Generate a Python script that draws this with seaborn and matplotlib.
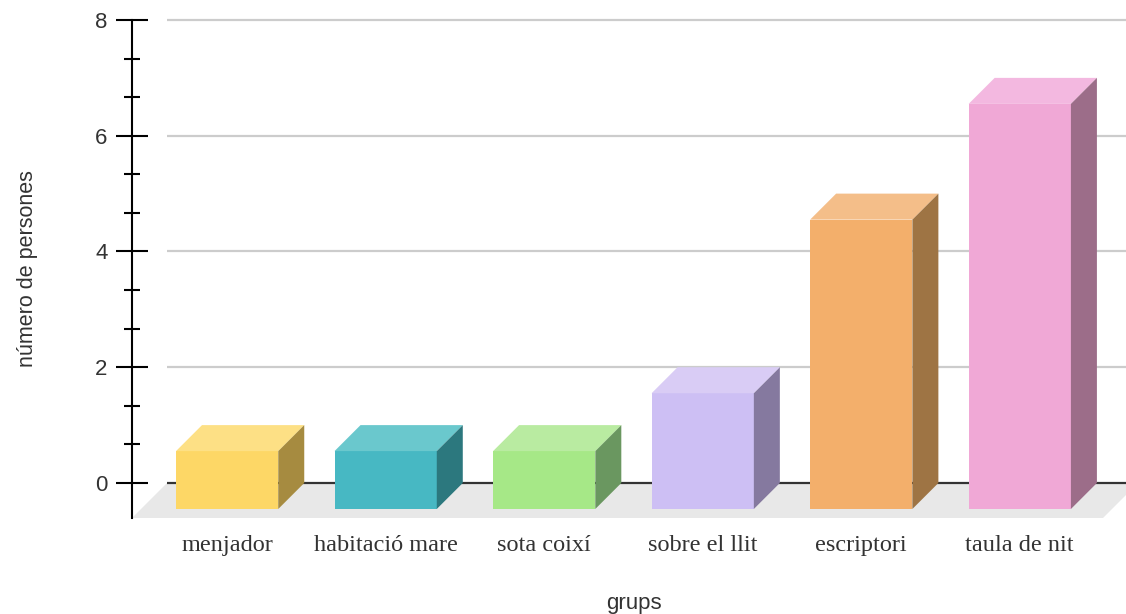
import matplotlib
matplotlib.use("Agg")
import matplotlib.pyplot as plt
from matplotlib.patches import Polygon
from matplotlib.ticker import MultipleLocator
import seaborn as sns

# Data
categories = ["menjador", "habitació mare", "sota coixí", "sobre el llit", "escriptori", "taula de nit"]
values = [1, 1, 1, 2, 5, 7]

# Face colours: front, top, side
front_colors = ["#FDD766", "#47B8C3", "#A6E887", "#CDBFF4", "#F3AF6B", "#F0A8D6"]
top_colors = ["#FDE085", "#6AC8CD", "#B9EBA1", "#D9CCF5", "#F4BE89", "#F3B8E0"]
side_colors = ["#A68B40", "#2C787E", "#6A9760", "#85799F", "#9E7444", "#9C6D89"]

sns.set_theme(style="white")
plt.rcParams["font.family"] = ["Liberation Sans", "DejaVu Sans"]

W, H = 1126, 614
fig = plt.figure(figsize=(W / 100, H / 100), dpi=100)
ax_left, ax_right, ax_top, ax_bottom = 132, 1126, 20, 518
ax = fig.add_axes([ax_left / W, 1 - ax_bottom / H, (ax_right - ax_left) / W, (ax_bottom - ax_top) / H])

BAR_W = 0.645
sns.barplot(x=categories, y=values, hue=categories, palette=front_colors,
            width=BAR_W, saturation=1, legend=False, linewidth=0, ax=ax, zorder=3)

x_lo, x_hi = -0.6, 5.67
y_lo, y_hi = -0.605, 8
ax.set_xlim(x_lo, x_hi)
ax.set_ylim(y_lo, y_hi)

# depth offsets in data units
px_x = (ax_right - ax_left) / (x_hi - x_lo)
px_y = (ax_bottom - ax_top) / (y_hi - y_lo)
bdx, bdy = 26 / px_x, 26 / px_y
fdx, fdy = -y_lo * px_y / px_x, -y_lo

# floor
floor_right = x_lo + (1103 - ax_left) / px_x
floor = Polygon([(x_lo, y_lo), (floor_right, y_lo), (floor_right + fdx, 0), (x_lo + fdx, 0)],
                closed=True, facecolor="#E8E8E8", edgecolor="none", zorder=0)
ax.add_patch(floor)

# back wall grid lines
for g in [2, 4, 6, 8]:
    ax.plot([x_lo + fdx, x_hi], [g, g], color="#CCCCCC", lw=1.6, zorder=1, clip_on=False, solid_capstyle="butt")
ax.plot([x_lo + fdx, x_hi], [0, 0], color="#333333", lw=1.6, zorder=1, solid_capstyle="butt")

# extrude bars into boxes
for p in list(ax.patches):
    if p is floor:
        continue
    xc = p.get_x() + p.get_width() / 2
    i = int(round(xc))
    h = p.get_height()
    p.set_y(-bdy)
    x0, x1 = p.get_x(), p.get_x() + p.get_width()
    top = Polygon([(x0, h - bdy), (x1, h - bdy), (x1 + bdx, h), (x0 + bdx, h)],
                  closed=True, facecolor=top_colors[i], edgecolor="none", zorder=3)
    side = Polygon([(x1, -bdy), (x1, h - bdy), (x1 + bdx, h), (x1 + bdx, 0)],
                   closed=True, facecolor=side_colors[i], edgecolor="none", zorder=3)
    ax.add_patch(top)
    ax.add_patch(side)

# axes styling
for s in ["top", "right", "bottom"]:
    ax.spines[s].set_visible(False)
ax.spines["left"].set_color("black")
ax.spines["left"].set_linewidth(1.5)
ax.set_yticks([0, 2, 4, 6, 8])
ax.yaxis.set_minor_locator(MultipleLocator(2 / 3))
ax.tick_params(axis="y", which="major", direction="inout", length=23, width=1.5, color="black",
               left=True, labelsize=16, labelcolor="#333333", pad=6)
ax.tick_params(axis="y", which="minor", direction="inout", length=12, width=1.5, color="black", left=True)
ax.tick_params(axis="x", length=0, pad=12)
ax.set_xticks(range(len(categories)))
ax.set_xticklabels(categories, fontfamily=["Liberation Serif"], fontsize=17.5, color="#333333")
ax.set_ylabel("número de persones", fontsize=15.5, color="#333333", labelpad=41)
ax.set_xlabel("")
fig.text(634 / W, 1 - 603 / H, "grups", fontsize=16, color="#333333", ha="center", va="center")
ax.grid(False)

fig.savefig("out.png", dpi=100)
